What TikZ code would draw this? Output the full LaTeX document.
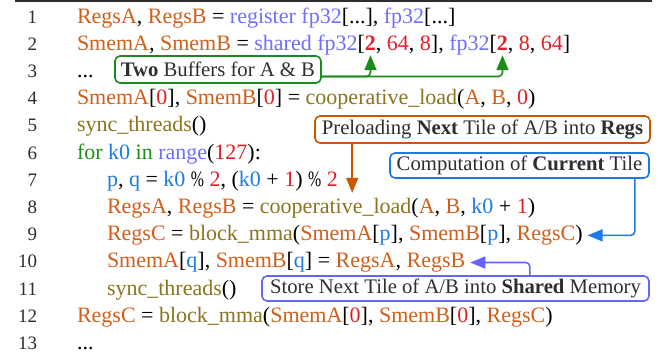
\documentclass[tikz,border=0pt]{standalone}
\usepackage{fontspec}
\usepackage{graphicx}
\setmainfont{Liberation Serif}
\usetikzlibrary{arrows.meta}
\definecolor{cvar}{RGB}{210,95,25}
\definecolor{ckey}{RGB}{110,110,255}
\definecolor{cnum}{RGB}{228,30,36}
\definecolor{cfun}{RGB}{140,115,30}
\definecolor{cgrn}{RGB}{20,145,20}
\definecolor{cblu}{RGB}{30,123,224}
\definecolor{cdark}{RGB}{45,45,50}
\definecolor{bgrn}{RGB}{26,140,26}
\definecolor{borg}{RGB}{204,85,0}
\definecolor{bblu}{RGB}{30,120,230}
\definecolor{bpur}{RGB}{100,100,255}
\newcommand{\V}[1]{\textcolor{cvar}{#1}}
\newcommand{\K}[1]{\textcolor{ckey}{#1}}
\newcommand{\N}[1]{\textcolor{cnum}{#1}}
\newcommand{\F}[1]{\textcolor{cfun}{#1}}
\newcommand{\G}[1]{\textcolor{cgrn}{#1}}
\newcommand{\B}[1]{\textcolor{cblu}{#1}}
\newcommand{\pct}{\scalebox{0.72}[1]{\%}}
\tikzset{
  code/.style={inner sep=0pt, outer sep=0pt, anchor=base west, text=black,
    font=\fontsize{22}{26}\selectfont},
  lnum/.style={inner sep=0pt, outer sep=0pt, anchor=base east, text=cdark,
    font=\fontsize{19}{22}\selectfont},
  callout/.style={draw=#1, line width=1.6pt, rounded corners=5pt, inner sep=0pt,
    text=cdark, font=\fontsize{20.7}{23}\selectfont},
  link/.style={draw=#1, line width=1.6pt, rounded corners=4pt,
    -{Triangle[length=15pt,width=12pt]}},
}
\begin{document}
\begin{tikzpicture}[x=1pt,y=-1pt]
\useasboundingbox (0,0) rectangle (672,354);
\draw[cdark, line width=2pt] (15,1) -- (652,1);
% line numbers
\foreach \i in {1,...,13}{
  \node[lnum] (n\i) at (37,{23+(\i-1)*27.2}) {\i};
}
% code lines
\node[code] (l1) at (77,23) {\V{RegsA}, \V{RegsB} = \K{register fp32}[...], \K{fp32}[...]};
\node[code] (l2) at (77,50.2) {\V{SmemA}, \V{SmemB} = \K{shared fp32}[};
\node[code] (t2a) at (l2.base east) {\N{\textbf{2}}};
\node[code] (l2b) at (t2a.base east) {, \N{64}, \N{8}], \K{fp32}[};
\node[code] (t2b) at (l2b.base east) {\N{\textbf{2}}};
\node[code] (l2c) at (t2b.base east) {, \N{8}, \N{64}]};
\node[code] (l3) at (77,77.4) {...};
\node[code] (l4) at (77,104.6) {\V{SmemA}[\N{0}], \V{SmemB}[\N{0}] = \F{cooperative\_load}(\V{A}, \V{B}, \N{0})};
\node[code] (l5) at (77,131.8) {\F{sync\_threads}()};
\node[code] (l6) at (77,159) {\G{for} \B{k0} \G{in} \K{range}(\N{127}):};
\node[code] (l7) at (107,186.2) {\B{p}, \B{q} = \B{k0} \pct{} \N{2}, (\B{k0} + \N{1}) \pct{} \N{2}};
\node[code] (l8) at (107,213.4) {\V{RegsA}, \V{RegsB} = \F{cooperative\_load}(\V{A}, \V{B}, \B{k0} + \N{1})};
\node[code] (l9) at (107,240.6) {\V{RegsC} = \F{block\_mma}(\V{SmemA}[\B{p}], \V{SmemB}[\B{p}], \V{RegsC})};
\node[code] (l10) at (107,267.8) {\V{SmemA}[\B{q}], \V{SmemB}[\B{q}] = \V{RegsA}, \V{RegsB}};
\node[code] (l11) at (107,295) {\F{sync\_threads}()};
\node[code] (l12) at (77,322.2) {\V{RegsC} = \F{block\_mma}(\V{SmemA}[\N{0}], \V{SmemB}[\N{0}], \V{RegsC})};
\node[code] (l13) at (77,349.4) {...};
% callouts
\node[callout=bgrn, minimum width=206pt, minimum height=27pt] (gbox) at (218,69.5) {\textbf{Two} Buffers for A \& B};
\node[callout=borg, minimum width=335pt, minimum height=27pt] (obox) at (482.5,129.5) {Preloading \textbf{Next} Tile of A/B into \textbf{Regs}};
\node[callout=bblu, minimum width=259pt, minimum height=25pt] (bbox) at (519.5,165.5) {Computation of \textbf{Current} Tile};
\node[callout=bpur, minimum width=387pt, minimum height=25pt] (pbox) at (455.5,288.5) {Store Next Tile of A/B into \textbf{Shared} Memory};
% connectors
\draw[link=bgrn] ([yshift=-7pt]gbox.east) -| ([yshift=-5pt]t2a.south);
\draw[link=bgrn] ([yshift=-7pt]gbox.east) -| ([yshift=-5pt]t2b.south);
\draw[link=borg] ([xshift=38pt]obox.south west) -- ++(0,49);
\draw[link=bblu] ([xshift=-15pt]bbox.south east) |- ([xshift=5pt]l9.east);
\draw[link=bpur] ([xshift=-120pt]pbox.north east) |- ([xshift=5pt]l10.east);
\end{tikzpicture}
\end{document}
